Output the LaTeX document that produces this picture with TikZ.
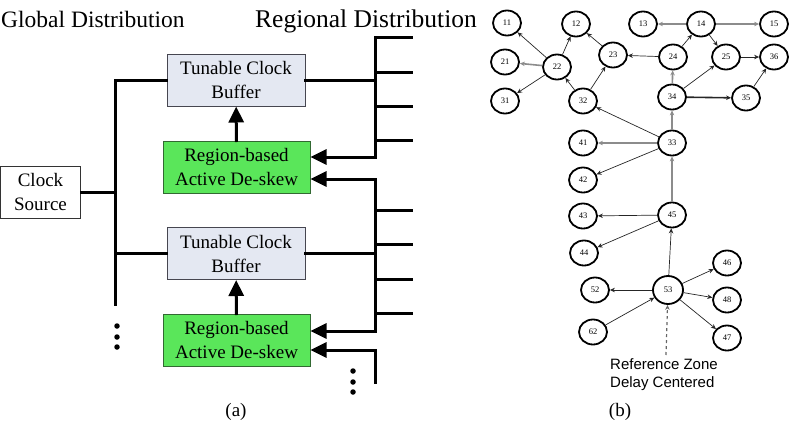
\documentclass[tikz,border=0pt]{standalone}
\usepackage{fontspec}
\setmainfont{Liberation Serif}
\newfontfamily\zonefont{Liberation Sans}
\usetikzlibrary{arrows.meta,shapes.geometric}
\definecolor{bufferfill}{RGB}{228,232,242}
\definecolor{bufferdraw}{RGB}{70,70,80}
\definecolor{deskewfill}{RGB}{90,230,90}
\definecolor{deskewdraw}{RGB}{50,105,50}
\tikzset{
  wire/.style={line width=3pt,line cap=rect},
  feed/.style={wire,-{Triangle[length=16pt,width=15pt]}},
  buffer/.style={draw=bufferdraw,fill=bufferfill,line width=1pt,minimum width=138pt,minimum height=52pt,
    align=center,inner sep=0pt,font=\fontsize{19}{24}\selectfont},
  deskew/.style={buffer,draw=deskewdraw,fill=deskewfill,minimum width=147pt},
  zone/.style={ellipse,draw,line width=1.8pt,minimum width=28pt,minimum height=25pt,inner sep=0pt,
    font=\fontsize{8.5}{9}\selectfont},
  link/.style={-{Stealth[length=5pt,width=4.5pt]},line width=0.7pt,black!85},
  heavy/.style={link,line width=1.6pt,black!45},
  dot/.style={circle,fill,inner sep=0pt,minimum size=5.5pt}
}
\begin{document}
\begin{tikzpicture}[x=1pt,y=-1pt]
\useasboundingbox (0,0) rectangle (790,426);
% (a) clock distribution
\node[anchor=base west,inner sep=0pt,font=\fontsize{23.5}{28}\selectfont] (glob) at (1,27) {Global Distribution};
\node[anchor=base west,inner sep=0pt,font=\fontsize{25.5}{30}\selectfont] (regl) at (255,27) {Regional Distribution};
\node[buffer,minimum width=80pt,fill=white,draw=black!80] (clk) at (40.5,192) {Clock\\Source};
\node[buffer] (tcb1) at (236,80) {Tunable Clock\\Buffer};
\node[deskew] (rad1) at (236.5,167) {Region-based\\Active De-skew};
\node[buffer] (tcb2) at (236,253.5) {Tunable Clock\\Buffer};
\node[deskew] (rad2) at (236.5,340) {Region-based\\Active De-skew};

\coordinate (g1) at (115,80);
\coordinate (g2) at (115,304);
\draw[wire] (tcb1.west) -- (g1) -- (g2);
\draw[wire] (clk.east) -- (clk.east -| g1);
\draw[wire] (tcb2.west -| g1) -- (tcb2.west);

\coordinate (r1) at (375,37);
\coordinate (r1e) at (375,157);
\draw[feed] ([xshift=36pt]r1) -- (r1) -- (r1e) -- (r1e -| rad1.east);
\foreach \y in {72,106,140} \draw[wire] (375,\y) -- +(36,0);
\draw[wire] (tcb1.east) -- (tcb1.east -| r1);

\coordinate (r2) at (375,179);
\coordinate (r2e) at (375,331);
\draw[feed] (r2e) -- (r2) -- (r2 -| rad1.east);
\draw[feed] (r2e) -- (r2e -| rad2.east);
\foreach \y in {210,244,279,313} \draw[wire] (375,\y) -- +(36,0);
\draw[wire] (tcb2.east) -- (tcb2.east -| r2);

\coordinate (r3) at (375,350);
\coordinate (r3e) at (375,382);
\draw[feed] (r3e) -- (r3) -- (r3 -| rad2.east);

\draw[feed] (rad1) -- (tcb1);
\draw[feed] (rad2) -- (tcb2);

\foreach \y in {326,337,347} \node[dot] (gd\y) at (117,\y) {};
\foreach \y in {371,382,392} \node[dot] (rd\y) at (353,\y) {};
\node[font=\fontsize{19}{24}\selectfont] (capa) at (236,412) {(a)};

% (b) zone graph
\foreach \n/\x/\y in {11/507/23,12/576/24,13/643/24,14/701/24,15/774/24,21/505/62,22/557/67,23/613/55,
  24/673/57,25/726/57,36/774/57,31/505/101,32/583/101,34/672/97,35/746/98,41/583/143,33/672/143,
  42/583/180,43/583/216,45/672/215,44/584/253,46/727/263,52/595/290,48/727/300,62/593/332,47/727/338}
  \node[zone] (z\n) at (\x,\y) {\n};
\node[zone,minimum width=30pt,minimum height=28pt] (z53) at (668,290) {53};

\foreach \a/\b in {22/11,22/31,22/12,32/22,32/23,23/12,24/23,24/14,14/25,34/25,25/36,35/36,
  33/32,33/42,45/43,45/44,53/45,53/52,62/53,53/46,53/48,53/47}
  \draw[link] (z\a) -- (z\b);
\foreach \a/\b in {22/21,14/13,14/15,34/24,33/34,33/41,45/33}
  \draw[heavy] (z\a) -- (z\b);
\draw[link,line width=1.6pt] (z34) -- (z35);

\coordinate (refz) at (666,355);
\draw[link,dashed,line width=1.2pt,black!60] (refz) -- (z53);
\node[anchor=north west,align=left,inner sep=0pt,font=\zonefont\fontsize{15}{18}\selectfont] (reftxt) at (610,358) {Reference Zone\\Delay Centered};
\node[font=\fontsize{19}{24}\selectfont] (capb) at (620,412) {(b)};
\end{tikzpicture}
\end{document}
